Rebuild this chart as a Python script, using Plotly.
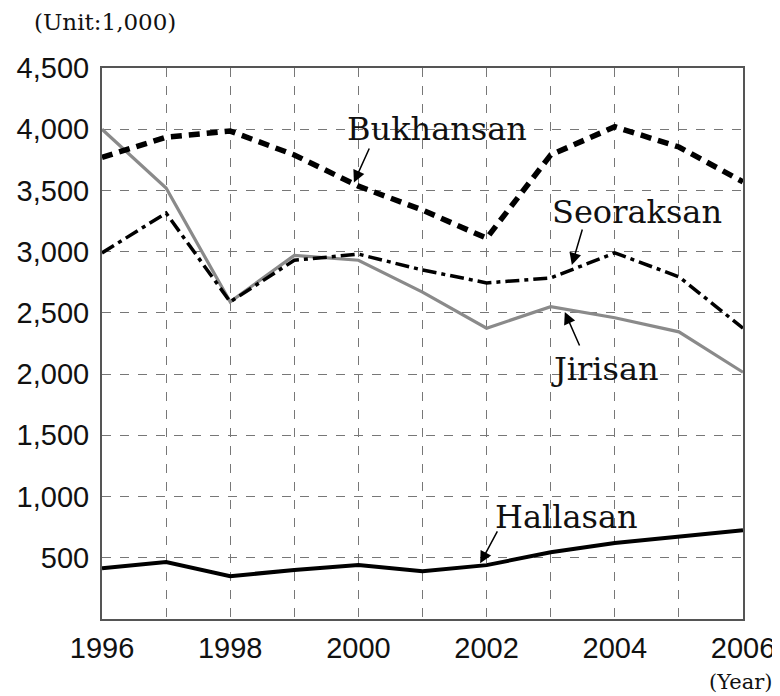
import plotly.graph_objects as go

years = [1996, 1997, 1998, 1999, 2000, 2001, 2002, 2003, 2004, 2005, 2006]
bukhansan = [3770, 3935, 3985, 3790, 3535, 3340, 3110, 3790, 4020, 3855, 3570]
seoraksan = [2990, 3315, 2590, 2930, 2980, 2850, 2745, 2785, 2990, 2795, 2375]
jirisan = [4000, 3520, 2590, 2970, 2930, 2670, 2375, 2550, 2460, 2345, 2015]
hallasan = [415, 465, 350, 400, 440, 390, 440, 545, 620, 670, 725]

x_tick_vals = years
x_tick_text = ["1996", "", "1998", "", "2000", "", "2002", "", "2004", "", "2006"]
y_tick_vals = [500, 1000, 1500, 2000, 2500, 3000, 3500, 4000, 4500]
y_tick_text = ["500", "1,000", "1,500", "2,000", "2,500", "3,000", "3,500", "4,000", "4,500"]

# label: (text x, text y, arrow tail x, tail y, head x, head y)
labels = {
    "Bukhansan": (2001.23, 4000, 2000.18, 3855, 1999.93, 3565),
    "Seoraksan": (2004.35, 3320, 2003.5, 3193, 2003.33, 2891),
    "Jirisan": (2003.85, 2040, 2003.46, 2221, 2003.22, 2507),
    "Hallasan": (2003.25, 831, 2002.18, 727, 2001.9, 455),
}

# page offset (browser body margin) compensation
OFF = 8
L, R, T, B = 102, 743, 68, 619

fig = go.Figure()
fig.add_trace(go.Scatter(x=years, y=jirisan, mode="lines",
                         line=dict(color="#8a8a8a", width=3.2), name="Jirisan"))
fig.add_trace(go.Scatter(x=years, y=hallasan, mode="lines",
                         line=dict(color="black", width=4), name="Hallasan"))
fig.add_trace(go.Scatter(x=years, y=seoraksan, mode="lines",
                         line=dict(color="black", width=3.5, dash="14px,5px,4px,5px"), name="Seoraksan"))
fig.add_trace(go.Scatter(x=years, y=bukhansan, mode="lines",
                         line=dict(color="black", width=5.5, dash="11px,7px"), name="Bukhansan"))

annotations = []
for name, (tx, ty, ax, ay, hx, hy) in labels.items():
    annotations.append(dict(x=tx, y=ty, xref="x", yref="y", text=name, showarrow=False,
                            font=dict(family="DejaVu Serif", size=32, color="#111"),
                            xanchor="center", yanchor="middle"))
    annotations.append(dict(x=hx, y=hy, ax=ax, ay=ay, xref="x", yref="y", axref="x", ayref="y",
                            text="", showarrow=True, arrowhead=2, arrowsize=1.6,
                            arrowwidth=1.5, arrowcolor="black", standoff=0, startstandoff=0))
annotations.append(dict(x=32, y=22, xref="paper", yref="paper", text="(Unit:1,000)",
                        showarrow=False, xanchor="left", yanchor="middle",
                        font=dict(family="DejaVu Serif", size=23, color="#111")))
annotations.append(dict(x=774, y=682, xref="paper", yref="paper", text="(Year)",
                        showarrow=False, xanchor="right", yanchor="middle",
                        font=dict(family="DejaVu Serif", size=21, color="#111")))
for a in annotations:
    if a.get("xref") == "paper":
        a["x"] = (a["x"] - L) / (R - L)
        a["y"] = (B - a["y"]) / (B - T)

fig.update_layout(
    width=780 - OFF, height=696 - OFF,
    margin=dict(l=L - OFF, r=780 - R, t=T - OFF, b=696 - B, autoexpand=False),
    plot_bgcolor="white", paper_bgcolor="white",
    showlegend=False,
    annotations=annotations,
    xaxis=dict(range=[1996, 2006], tickvals=x_tick_vals, ticktext=x_tick_text,
               showgrid=True, gridcolor="#777", griddash="dash", gridwidth=1.3,
               showline=True, linecolor="#555", linewidth=2, mirror=True,
               ticks="", zeroline=False, ticklabelstandoff=2, automargin=False,
               tickfont=dict(family="Liberation Sans", size=29, color="#111")),
    yaxis=dict(range=[0, 4500], tickvals=y_tick_vals, ticktext=y_tick_text,
               showgrid=True, gridcolor="#777", griddash="dash", gridwidth=1.3,
               showline=True, linecolor="#555", linewidth=2, mirror=True,
               ticks="", zeroline=False, ticklabelstandoff=5, automargin=False,
               tickfont=dict(family="Liberation Sans", size=29, color="#111")),
)

fig.write_html("out.html")
